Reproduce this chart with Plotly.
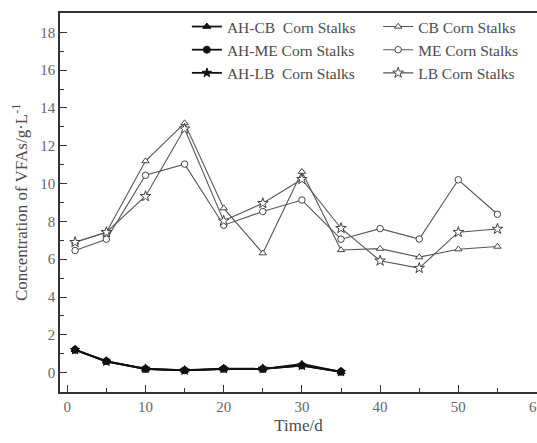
import plotly.graph_objects as go

time_long = [1, 5, 10, 15, 20, 25, 30, 35, 40, 45, 50, 55]
time_short = [1, 5, 10, 15, 20, 25, 30, 35]

ah_cb = [1.22, 0.60, 0.19, 0.12, 0.19, 0.19, 0.46, 0.04]
ah_me = [1.21, 0.61, 0.20, 0.13, 0.21, 0.20, 0.38, 0.05]
ah_lb = [1.20, 0.59, 0.21, 0.12, 0.20, 0.21, 0.37, 0.04]

cb = [6.9, 7.43, 11.19, 13.2, 8.7, 6.32, 10.63, 6.49, 6.56, 6.11, 6.53, 6.67]
me = [6.46, 7.06, 10.44, 11.03, 7.8, 8.52, 9.13, 7.06, 7.62, 7.07, 10.2, 8.38]
lb = [6.9, 7.43, 9.33, 12.9, 8.03, 8.96, 10.23, 7.64, 5.92, 5.53, 7.43, 7.6]

names = ["AH-CB\u00a0 Corn Stalks", "CB Corn Stalks",
         "AH-ME Corn Stalks", "ME Corn Stalks",
         "AH-LB\u00a0 Corn Stalks", "LB Corn Stalks"]

x_ticks = [0, 10, 20, 30, 40, 50, 60]
y_ticks = [0, 2, 4, 6, 8, 10, 12, 14, 16, 18]

FONT = "Liberation Serif, Times New Roman, serif"
TXT = "#4a4a4a"

fig = go.Figure()

series = [
    (names[0], time_short, ah_cb, "triangle-up", True, "legend"),
    (names[1], time_long, cb, "triangle-up", False, "legend2"),
    (names[2], time_short, ah_me, "circle", True, "legend"),
    (names[3], time_long, me, "circle", False, "legend2"),
    (names[4], time_short, ah_lb, "star", True, "legend"),
    (names[5], time_long, lb, "star", False, "legend2"),
]

for name, xs, ys, sym, filled, leg in series:
    if filled:
        line = dict(color="#111111", width=1.8)
        marker = dict(symbol=sym, size=7, color="#111111",
                      line=dict(color="#111111", width=1))
    else:
        line = dict(color="#555555", width=1.1)
        marker = dict(symbol=sym, size=6.5 if sym != "star" else 8, color="#ffffff",
                      line=dict(color="#444444", width=1))
    fig.add_trace(go.Scatter(x=xs, y=ys, name=name, mode="lines+markers",
                             line=line, marker=marker, legend=leg))

leg_common = dict(orientation="v", xanchor="left", yanchor="top",
                  font=dict(family=FONT, size=15.5, color=TXT),
                  bgcolor="rgba(0,0,0,0)", itemwidth=30, traceorder="normal",
                  tracegroupgap=0)

fig.update_layout(
    width=537, height=443,
    margin=dict(l=60, r=0, t=13, b=51),
    paper_bgcolor="white", plot_bgcolor="white",
    font=dict(family=FONT, size=15, color=TXT),
    legend=dict(x=0.266, y=1.008, **leg_common),
    legend2=dict(x=0.667, y=1.008, **leg_common),
    xaxis=dict(range=[-0.93, 60.06], tickvals=x_ticks, ticks="inside", ticklen=7,
               tickcolor="#333", showline=True, linecolor="#333", linewidth=1.5,
               mirror=True, showgrid=False, zeroline=False, automargin=False,
               minor=dict(dtick=5, tick0=0, ticks="inside", ticklen=4, tickcolor="#333"),
               ticklabeloverflow="allow",
               title=dict(text="Time/d", font=dict(family=FONT, size=17, color=TXT), standoff=5),
               tickfont=dict(family=FONT, size=15, color="#666")),
    yaxis=dict(range=[-1.02, 19.02], tickvals=y_ticks, ticks="inside", ticklen=7,
               tickcolor="#333", showline=True, linecolor="#333", linewidth=1.5,
               showgrid=False, zeroline=False, automargin=False,
               minor=dict(dtick=1, tick0=0, ticks="inside", ticklen=4, tickcolor="#333"),
               title=dict(text="Concentration of VFAs/g·L<sup>-1</sup>",
                          font=dict(family=FONT, size=17, color=TXT), standoff=8),
               tickfont=dict(family=FONT, size=15, color="#666")),
)

fig.write_html("out.html", config={"displayModeBar": False},
               post_script="document.body.style.margin='0';document.body.style.overflow='hidden';")
